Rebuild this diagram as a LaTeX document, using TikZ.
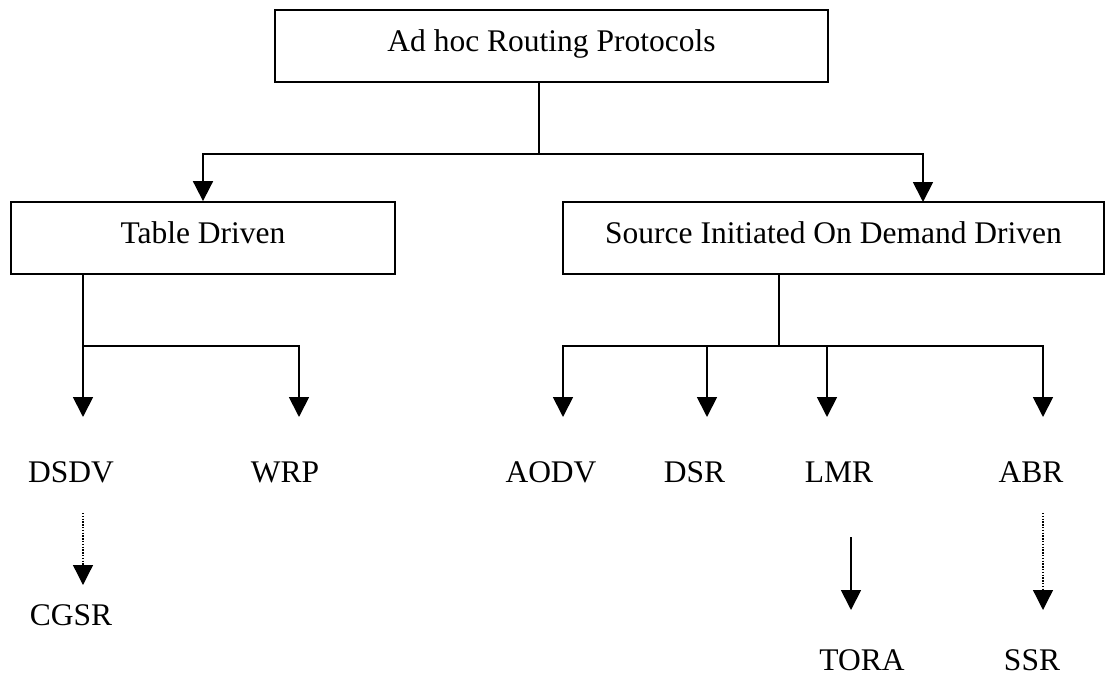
\documentclass[tikz,border=0pt]{standalone}
\usepackage{fontspec}
\setmainfont{Liberation Serif}
\usetikzlibrary{arrows.meta}
\begin{document}
\begin{tikzpicture}[x=1pt,y=-1pt,
  box/.style={draw, line width=1.8pt, rectangle, inner sep=0pt,
    minimum height=72pt, text height=31pt, text depth=20pt,
    font=\fontsize{31.5pt}{37pt}\selectfont},
  lbl/.style={inner sep=0pt, anchor=base, font=\fontsize{31.5pt}{37pt}\selectfont},
  conn/.style={line width=1.8pt},
  arr/.style={line width=1.8pt, -{Triangle[width=20pt,length=20pt]}},
  darr/.style={line width=1.3pt, dash pattern=on 1.4pt off 1.4pt, -{Triangle[width=20pt,length=20pt]}}
]
\useasboundingbox (0,0) rectangle (1106,677);

% boxes
\node[box, minimum width=553pt] (top) at (551.5,46) {Ad hoc Routing Protocols};
\node[box, minimum width=384pt] (tab) at (203,238) {Table Driven};
\node[box, minimum width=541pt] (src) at (833.5,238) {Source Initiated On Demand Driven};

% labels
\node[lbl] (dsdv) at (71,482) {DSDV};
\node[lbl] (wrp)  at (285,482) {WRP};
\node[lbl] (aodv) at (551,482) {AODV};
\node[lbl] (dsr)  at (694.5,482) {DSR};
\node[lbl] (lmr)  at (839,482) {LMR};
\node[lbl] (abr)  at (1031,482) {ABR};
\node[lbl] (cgsr) at (71,625) {CGSR};
\node[lbl] (tora) at (862,670) {TORA};
\node[lbl] (ssr)  at (1032,670) {SSR};

% junctions and arrow tips
\coordinate (j0) at (539,154);
\coordinate (srcin) at (923,202);
\coordinate (j1) at (83,345.7);
\coordinate (tDSDV) at (83,417);
\coordinate (tWRP) at (299,417);
\coordinate (j2) at (779,345.7);
\coordinate (tAODV) at (563,417);
\coordinate (tDSR) at (707,417);
\coordinate (tLMR) at (827,417);
\coordinate (tABR) at (1043,417);
\coordinate (c1) at (83,513);
\coordinate (c2) at (83,585);
\coordinate (r1) at (851,537);
\coordinate (r2) at (851,610);
\coordinate (s1) at (1043,513);
\coordinate (s2) at (1043,610);

% top level
\draw[conn] (top.south -| j0) -- (j0);
\draw[arr] (j0) -| (tab.north);
\draw[arr] (j0) -| (srcin);

% table driven
\draw[conn] (tab.south -| j1) -- (j1);
\draw[arr] (j1) -- (tDSDV);
\draw[arr] (j1) -| (tWRP);

% source initiated
\draw[conn] (src.south -| j2) -- (j2);
\draw[arr] (j2) -| (tAODV);
\draw[arr] (j2) -| (tDSR);
\draw[arr] (j2) -| (tLMR);
\draw[arr] (j2) -| (tABR);

% lower arrows
\draw[darr] (c1) -- (c2);
\draw[arr] (r1) -- (r2);
\draw[darr] (s1) -- (s2);
\end{tikzpicture}
\end{document}
